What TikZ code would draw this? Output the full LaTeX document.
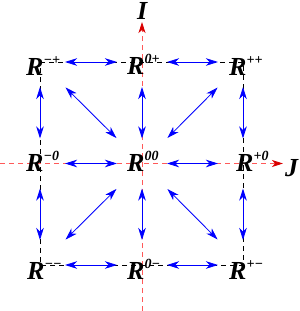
\documentclass[tikz,border=0pt]{standalone}
\usepackage{fontspec}
\setmainfont{Liberation Serif}
\usetikzlibrary{arrows.meta}
\newcommand{\Rlab}[1]{R\raisebox{11pt}{\fontsize{14}{14}\selectfont #1}}
\begin{document}
\begin{tikzpicture}[x=1pt,y=-1pt,
  lab/.style={inner sep=0pt,anchor=base west,text height=0.68em,text depth=0pt,font=\fontsize{26}{26}\selectfont\bfseries\itshape},
  sq/.style={black,line width=0.6pt,dash pattern=on 5pt off 4pt},
  axis/.style={red!65,line width=0.9pt,dash pattern=on 5pt off 4pt},
  axtip/.style={-{Stealth[length=11pt,width=7pt,inset=3pt,red!85!black]}},
  barrow/.style={blue,line width=0.8pt,{Stealth[length=12pt,width=7.5pt,inset=3.5pt]}-{Stealth[length=12pt,width=7.5pt,inset=3.5pt]}},
  st/.style={barrow,shorten >=25pt,shorten <=25pt},
  dg/.style={barrow,shorten >=36pt,shorten <=36pt}]
\useasboundingbox (0,0) rectangle (300,311);
% grid points
\coordinate (g11) at (40,62);  \coordinate (g21) at (142,62);  \coordinate (g31) at (243,62);
\coordinate (g12) at (40,163.5); \coordinate (g22) at (142,163.5); \coordinate (g32) at (243,163.5);
\coordinate (g13) at (40,265); \coordinate (g23) at (142,265); \coordinate (g33) at (243,265);
\coordinate (ax0) at (0,163.5);  \coordinate (ax1) at (283,163.5);
\coordinate (ay0) at (142,311); \coordinate (ay1) at (142,22);
% dashed square
\draw[sq] (g11) -- (g31) -- (g33) -- (g13) -- cycle;
% axes
\draw[axis,axtip] (ax0) -- (ax1);
\draw[axis,axtip] (ay0) -- (ay1);
% straight arrows
\draw[st] (g11) -- (g21); \draw[st] (g21) -- (g31);
\draw[st] (g12) -- (g22); \draw[st] (g22) -- (g32);
\draw[st] (g13) -- (g23); \draw[st] (g23) -- (g33);
\draw[st] (g11) -- (g12); \draw[st] (g12) -- (g13);
\draw[st] (g21) -- (g22); \draw[st] (g22) -- (g23);
\draw[st] (g31) -- (g32); \draw[st] (g32) -- (g33);
% diagonal arrows
\draw[dg] (g11) -- (g22); \draw[dg] (g31) -- (g22);
\draw[dg] (g13) -- (g22); \draw[dg] (g33) -- (g22);
% labels
\node[lab] (Rmp) at (26,75)  {\Rlab{−+}};
\node[lab] (Rzp) at (127,74) {\Rlab{0+}};
\node[lab] (Rpp) at (229,75) {\Rlab{++}};
\node[lab] (Rmz) at (26,171) {\Rlab{−0}};
\node[lab] (Rzz) at (127,171) {\Rlab{00}};
\node[lab] (Rpz) at (236,171) {\Rlab{+0}};
\node[lab] (Rmm) at (27,279) {\Rlab{−−}};
\node[lab] (Rzm) at (127,279) {\Rlab{0−}};
\node[lab] (Rpm) at (229,279) {\Rlab{+−}};
\node[lab] (I) at (137,19) {I};
\node[lab] (J) at (285,176) {J};
\end{tikzpicture}
\end{document}
